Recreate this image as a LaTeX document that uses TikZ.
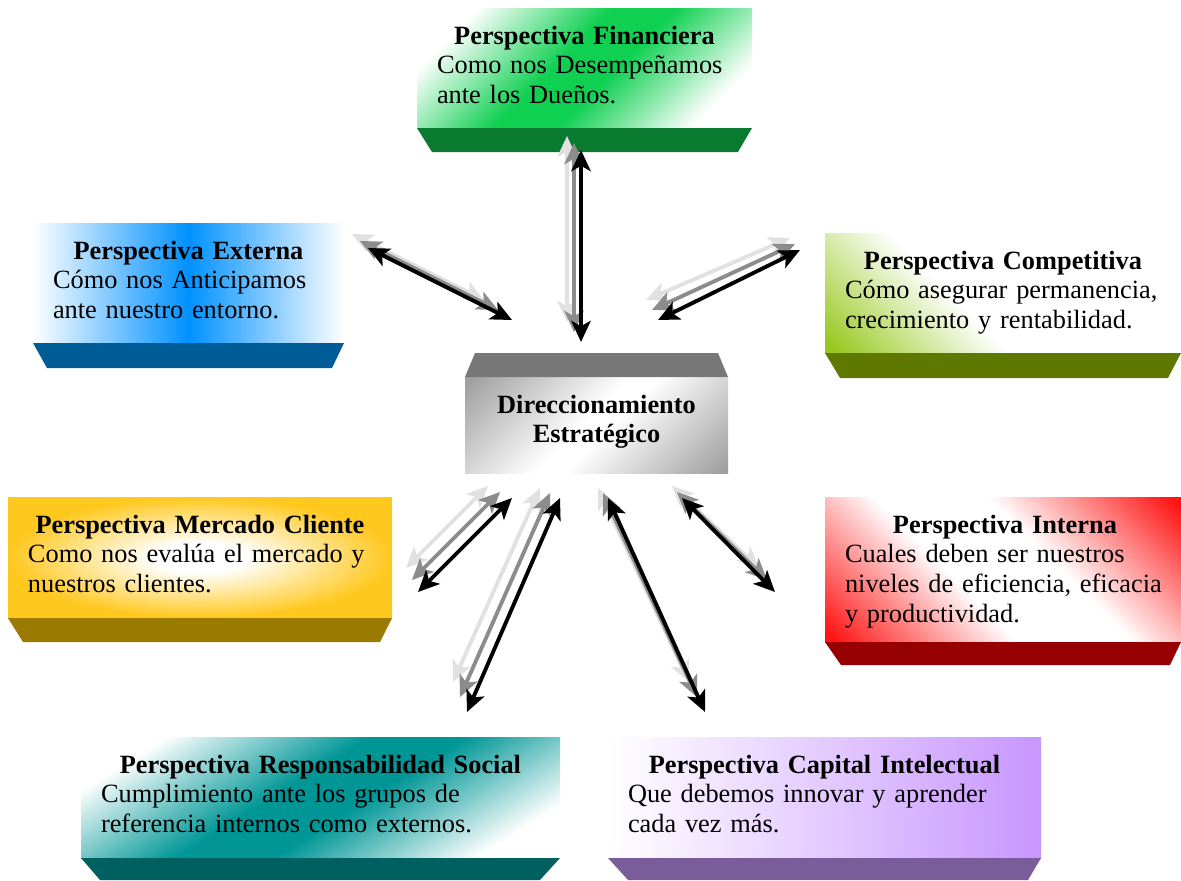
\documentclass[tikz,border=0pt]{standalone}
\usepackage{fontspec}
\setmainfont{Liberation Serif}
\usetikzlibrary{arrows.meta,calc}

\newdimen\pxu \pxu=0.02cm

\definecolor{finGreen}{RGB}{16,208,82}
\definecolor{finBand}{RGB}{10,122,48}
\definecolor{extBlue}{RGB}{0,145,255}
\definecolor{extBand}{RGB}{0,92,150}
\definecolor{compGreen}{RGB}{150,200,30}
\definecolor{compBand}{RGB}{95,120,0}
\definecolor{mercGold}{RGB}{255,200,30}
\definecolor{mercBand}{RGB}{155,122,0}
\definecolor{intRed}{RGB}{255,20,20}
\definecolor{intBand}{RGB}{150,0,0}
\definecolor{respTeal}{RGB}{0,150,150}
\definecolor{respBand}{RGB}{0,95,95}
\definecolor{capLav}{RGB}{200,150,255}
\definecolor{capBand}{RGB}{122,92,155}
\definecolor{dirGray}{RGB}{160,160,160}
\definecolor{dirRoof}{RGB}{120,120,120}
\definecolor{echoLight}{RGB}{225,225,225}
\definecolor{echoMid}{RGB}{140,140,140}

% face shadings (0bp = bottom, 100bp = top)
\pgfdeclareverticalshading{fingrad}{100bp}{%
  color(0bp)=(white); color(24bp)=(white); color(45bp)=(finGreen);
  color(55bp)=(finGreen); color(76bp)=(white); color(100bp)=(white)}
\pgfdeclareverticalshading{respgrad}{100bp}{%
  color(0bp)=(white); color(24bp)=(white); color(45bp)=(respTeal);
  color(55bp)=(respTeal); color(76bp)=(white); color(100bp)=(white)}
\pgfdeclareverticalshading{dirgrad}{100bp}{%
  color(0bp)=(dirGray); color(16bp)=(dirGray); color(47bp)=(white);
  color(53bp)=(white); color(84bp)=(dirGray); color(100bp)=(dirGray)}
\pgfdeclareverticalshading{intgrad}{100bp}{%
  color(0bp)=(intRed); color(16bp)=(intRed); color(42bp)=(white);
  color(58bp)=(white); color(84bp)=(intRed); color(100bp)=(intRed)}
\pgfdeclareverticalshading{compgrad}{100bp}{%
  color(0bp)=(compGreen); color(16bp)=(compGreen); color(42bp)=(white);
  color(100bp)=(white)}
\pgfdeclareradialshading{mercglow}{\pgfpoint{0bp}{0bp}}{%
  color(0bp)=(white); color(6bp)=(white); color(25bp)=(mercGold); color(50bp)=(mercGold)}

% bottom band of a box: node, colour, left inset, right inset, depth
\newcommand\boxband[5]{%
  \fill[#2] (#1.south west) -- (#1.south east) -- ++(-#4,#5)
    -- ($(#1.south west)+(#3,#5)$) -- cycle;}

% double arrow with two fading echoes behind it
\newcommand\echoarrow[4]{%
  \draw[echolight] ($(#1)+2*(#3)$) -- ($(#2)+2*(#4)$);
  \draw[echomid] ($(#1)+(#3)$) -- ($(#2)+(#4)$);
  \draw[link] (#1) -- (#2);}

\begin{document}
\begin{tikzpicture}[x=0.02cm,y=-0.02cm,
  >={Stealth[length=12pt,width=11pt,inset=3pt]},
  face/.style={draw=none,inner sep=0pt,outer sep=0pt,anchor=north west},
  txt/.style={inner sep=0pt,outer sep=0pt,anchor=base west,
    font=\fontsize{15}{17}\selectfont},
  link/.style={<->,line width=2.2pt,draw=black},
  echomid/.style={<->,line width=2.2pt,draw=echoMid},
  echolight/.style={<->,line width=2.2pt,draw=echoLight}]

\fill[white] (0,0) rectangle (1181,880);
\useasboundingbox (0,0) rectangle (1181,880);

% ---- Financiera
\node[face,minimum width=335*\pxu,minimum height=120*\pxu,
  shade,shading=fingrad,shading angle=45]
  (fin) at (417,8) {};
\boxband{fin}{finBand}{15}{14}{24}
\node[txt,text width=5.9cm] (fin-t) at ($(fin.north west)+(20,36)$)
  {{\centering\bfseries Perspectiva Financiera\par}Como nos Desempeñamos\\ante los Dueños.};

% ---- Externa
\node[face,minimum width=311*\pxu,minimum height=120*\pxu,
  left color=white,right color=white,middle color=extBlue]
  (ext) at (33,223) {};
\boxband{ext}{extBand}{14}{12}{25}
\node[txt,text width=5.42cm] (ext-t) at ($(ext.north west)+(20,36)$)
  {{\centering\bfseries Perspectiva Externa\par}Cómo nos Anticipamos\\ante nuestro entorno.};

% ---- Competitiva
\node[face,minimum width=356*\pxu,minimum height=120*\pxu,
  shade,shading=compgrad,shading angle=-45]
  (comp) at (825,233) {};
\boxband{comp}{compBand}{15}{13}{25}
\node[txt,text width=6.32cm] (comp-t) at ($(comp.north west)+(20,36)$)
  {{\centering\bfseries Perspectiva Competitiva\par}Cómo asegurar permanencia,\\crecimiento y rentabilidad.};

% ---- Direccionamiento (centre)
\node[face,minimum width=263*\pxu,minimum height=96*\pxu,
  shade,shading=dirgrad,shading angle=45]
  (dir) at (465,377) {};
\fill[dirRoof] (dir.north west) -- ++(10,-24) -- ($(dir.north east)+(-10,-24)$)
  -- (dir.north east) -- cycle;
\node[inner sep=0pt,anchor=base,text width=5cm,align=center,
  font=\fontsize{15}{17}\selectfont\bfseries] (dir-t) at (596.5,413)
  {Direccionamiento\\Estratégico};

% ---- Mercado Cliente
\node[face,minimum width=384*\pxu,minimum height=121*\pxu,shade,shading=mercglow]
  (merc) at (8,497) {};
\boxband{merc}{mercBand}{15}{12}{24}
\node[txt,text width=6.88cm] (merc-t) at ($(merc.north west)+(20,36)$)
  {{\centering\bfseries Perspectiva Mercado Cliente\par}Como nos evalúa el mercado y\\nuestros clientes.};

% ---- Interna
\node[face,minimum width=356*\pxu,minimum height=145*\pxu,
  shade,shading=intgrad,shading angle=-45]
  (int) at (825,497) {};
\boxband{int}{intBand}{16}{11}{23}
\node[txt,text width=6.4cm] (int-t) at ($(int.north west)+(20,36)$)
  {{\centering\bfseries Perspectiva Interna\par}%
   \makebox[\linewidth][s]{Cuales deben ser nuestros}\\
   \makebox[\linewidth][s]{niveles de eficiencia, eficacia}\\
   y productividad.};

% ---- Responsabilidad Social
\node[face,minimum width=479*\pxu,minimum height=121*\pxu,
  shade,shading=respgrad,shading angle=32]
  (resp) at (81,737) {};
\boxband{resp}{respBand}{19}{20}{22}
\node[txt,text width=8.78cm] (resp-t) at ($(resp.north west)+(20,36)$)
  {{\centering\bfseries Perspectiva Responsabilidad Social\par}Cumplimiento ante los grupos de\\referencia internos como externos.};

% ---- Capital Intelectual
\node[face,minimum width=433*\pxu,minimum height=121*\pxu,
  left color=white,right color=capLav]
  (cap) at (608,737) {};
\boxband{cap}{capBand}{20}{13}{22}
\node[txt,text width=7.86cm] (cap-t) at ($(cap.north west)+(20,36)$)
  {{\centering\bfseries Perspectiva Capital Intelectual\par}Que debemos innovar y aprender\\cada vez más.};

% ---- arrow ends
\coordinate (fin-a) at (581,150);  \coordinate (fin-b) at (581,342);
\coordinate (ext-a) at (368,248);  \coordinate (ext-b) at (512,320);
\coordinate (comp-a) at (658,320); \coordinate (comp-b) at (800,250);
\coordinate (merc-a) at (418,592); \coordinate (merc-b) at (512,498);
\coordinate (resp-a) at (467,712); \coordinate (resp-b) at (560,498);
\coordinate (cap-a) at (608,498);  \coordinate (cap-b) at (705,712);
\coordinate (int-a) at (682,498);  \coordinate (int-b) at (775,592);

\echoarrow{fin-a}{fin-b}{-7,-7}{-7,-10}
\echoarrow{ext-a}{ext-b}{-8,-7}{-14,-10}
\echoarrow{comp-a}{comp-b}{-6,-10}{-5,-6}
\echoarrow{merc-a}{merc-b}{-6,-12}{-12,-6}
\echoarrow{resp-a}{resp-b}{-7,-15}{-10,-5}
\echoarrow{cap-a}{cap-b}{-5,-5}{-8,-15}
\echoarrow{int-a}{int-b}{-5,-6}{-8,-12}

\end{tikzpicture}
\end{document}
